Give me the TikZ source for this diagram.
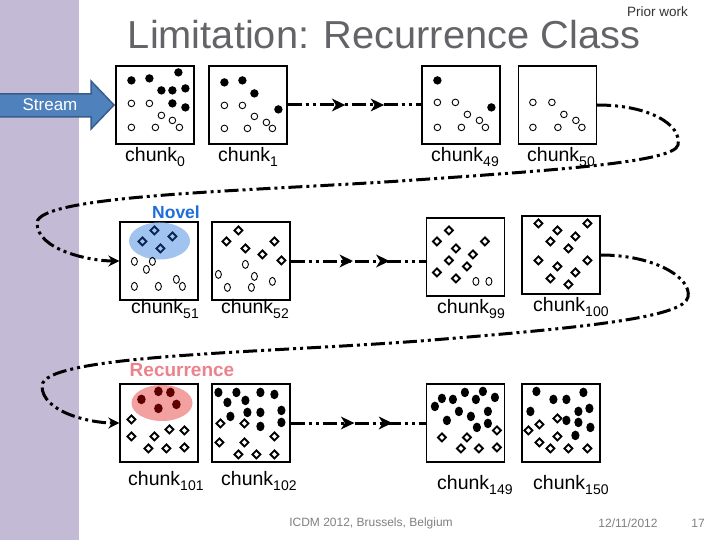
\documentclass[tikz,border=0pt]{standalone}
\usepackage{fontspec}
\setmainfont{Liberation Sans}
\usepackage{graphicx}
\usetikzlibrary{arrows.meta,decorations.markings,shapes.geometric}
\definecolor{barcol}{RGB}{195,186,214}
\definecolor{streamfill}{RGB}{79,129,189}
\definecolor{streamline}{RGB}{56,93,138}
\definecolor{titlecol}{RGB}{100,100,104}
\definecolor{novelcol}{RGB}{30,110,215}
\definecolor{novelfill}{RGB}{160,195,240}
\definecolor{reccol}{RGB}{236,130,140}
\definecolor{recfill}{RGB}{242,160,160}
\definecolor{navy}{RGB}{12,36,80}
\definecolor{darkred}{RGB}{95,0,0}
\definecolor{footcol}{RGB}{128,128,128}

\newcommand\ptF[2]{\foreach \p/\q in {#2}{\fill ([shift={(\p,\q)}]#1.north west) circle[radius=4.2pt];}}
\newcommand\ptE[2]{\foreach \p/\q in {#2}{\fill ([shift={(\p,\q)}]#1.north west) ellipse[x radius=4.1pt,y radius=4.8pt];}}
\newcommand\ptR[2]{\foreach \p/\q in {#2}{\fill[darkred] ([shift={(\p,\q)}]#1.north west) ellipse[x radius=4.3pt,y radius=4.8pt];}}
\newcommand\ptO[2]{\foreach \p/\q in {#2}{\draw[line width=0.9pt] ([shift={(\p,\q)}]#1.north west) circle[radius=3.3pt];}}
\newcommand\ptV[2]{\foreach \p/\q in {#2}{\draw[line width=0.9pt] ([shift={(\p,\q)}]#1.north west) ellipse[x radius=3pt,y radius=4pt];}}
\newcommand\ptD[3]{\foreach \p/\q in {#2}{\draw[line width=1.8pt,#3] ([shift={(\p,\q)}]#1.north west) ++(0,-4pt) -- ++(4pt,4pt) -- ++(-4pt,4pt) -- ++(-4pt,-4pt) -- cycle;}}
\newcommand\chk[1]{chunk\raisebox{-5pt}{\fontsize{14pt}{14pt}\selectfont #1}}
\newcommand\midtip{\fill[solid] (-12pt,-6.5pt) -- (1.5pt,0pt) -- (-12pt,6.5pt) -- (-8pt,0pt) -- cycle;}

\begin{document}
\begin{tikzpicture}[x=1pt,y=-1pt,
  box/.style={draw, line width=1.2pt, minimum size=78pt, inner sep=0pt, fill=white},
  lab/.style={anchor=base west, inner sep=0pt, font=\fontsize{19.5pt}{22pt}\selectfont},
  conn/.style={line width=3pt, dash pattern=on 14pt off 4pt on 3pt off 4pt on 3pt off 4pt},
  tipstyle/.style={-{Stealth[length=11pt,width=11pt]}},
  midarrows/.style 2 args={postaction={decorate}, decoration={markings,
     mark=at position #1 with {\midtip},
     mark=at position #2 with {\midtip}}},
  foot/.style={text=footcol, font=\fontsize{12pt}{14pt}\selectfont, inner sep=0pt}]
\useasboundingbox (0,0) rectangle (720,540);
\fill[white] (0,0) rectangle (720,540);
\fill[barcol] (0,0) rectangle (79,540);

% title
\node[anchor=base, inner sep=0pt, text=titlecol, font=\fontsize{39pt}{44pt}\selectfont] (title) at (384,49) {\scalebox{1.02}[1]{Limitation: Recurrence Class}};
\node[anchor=base west, inner sep=0pt, text=black!80, font=\fontsize{13.5pt}{16pt}\selectfont] (prior) at (627,17) {Prior work};

% stream arrow
\draw[fill=streamfill, draw=streamline, line width=1.5pt] (-3,94) -- (91,94) -- (91,81) -- (114,105) -- (91,129) -- (91,117) -- (-3,117) -- cycle;
\node[text=white, font=\fontsize{17pt}{20pt}\selectfont] (stream) at (50,105) {Stream};

% boxes
\node[box] (c0) at (155,105) {};
\node[box] (c1) at (248,105) {};
\node[box] (c49) at (461,105) {};
\node[box] (c50) at (557.5,105) {};
\node[box] (c51) at (159,261) {};
\node[box] (c52) at (251,261) {};
\node[box] (c99) at (465.5,257) {};
\node[box] (c100) at (561,255) {};
\node[box] (c101) at (159,423) {};
\node[box] (c102) at (251,423) {};
\node[box] (c149) at (465.5,423) {};
\node[box] (c150) at (561,423) {};

% highlight ellipses
\node[ellipse, fill=novelfill, minimum width=61pt, minimum height=37pt, inner sep=0pt] (novelE) at (159.5,241) {};
\node[ellipse, fill=recfill, minimum width=61pt, minimum height=36pt, inner sep=0pt] (recE) at (162,403) {};

% row 1 points
\ptF{c0}{16/15,34/13,63/7,46/25,57/25,70/23,57/38,70/42}
\ptO{c0}{16/38,34/38,46/50,16/62,40/62,57/55,64/62}
\ptF{c1}{16/17,34/15,46/28,70/44}
\ptO{c1}{16/40,34/40,46/51,16/63,39/63,58/57,64/63}
\ptF{c49}{16/15,70/42}
\ptO{c49}{16/37,34/37,46/49,16/62,40/62,58/55,64/62}
\ptO{c50}{15/37,34/37,46/49,15/62,40/62,58/55,64/62}

% row 2 points
\ptD{c51}{35/9,23/20,53/15,41/27}{draw=navy}
\ptV{c51}{15/40,33/40,27/48,15/65,39/65,57/58,63/65}
\ptD{c52}{27/9,15/20,34/27,63/20,51/33,70/39}{fill=white}
\ptV{c52}{34/43,7/53,43/55,16/66,40/66,61/60}
\ptD{c99}{23/13,11/24,30/31,59/24,47/37,23/43,41/49,11/55,30/61}{fill=white}
\ptV{c99}{50/64,63/64}
\ptD{c100}{17/8,36/15,66/8,54/21,29/26,47/33,17/45,66/45,36/51,54/57,29/63,47/69}{fill=white}

% row 3 points
\ptR{c101}{22/16,39/8,51/9,39/25,57/21}
\ptD{c101}{12/36,12/53,35/53,50/46,65/47,29/65,47/65,65/64}{fill=white}
\ptE{c102}{7/9,25/9,16/19,34/17,49/9,63/11,19/33,36/29,49/29,70/27,70/39,49/43}
\ptD{c102}{9/40,33/40,63/53,8/59,33/59,27/71,45/71,63/71}{fill=white}
\ptE{c149}{9/23,16/15,27/16,39/9,50/16,57/8,69/14,33/28,45/33,62/28,21/37,51/44,62/40}
\ptD{c149}{71/47,16/54,41/54,35/65,53/65,71/64}{fill=white}
\ptE{c150}{15/8,32/16,45/16,62/9,9/28,57/28,68/25,45/37,57/39,69/44,54/52}
\ptD{c150}{36/35,18/41,7/47,36/53,18/59,29/65,47/65,66/65}{fill=white}

% highlight labels
\node[text=novelcol, font=\bfseries\fontsize{17.5pt}{20pt}\selectfont, inner sep=0pt] (novel) at (176,212.5) {Novel};
\node[text=reccol, font=\bfseries\fontsize{19pt}{22pt}\selectfont, inner sep=0pt] (rec) at (182,370) {Recurrence};

% connectors
\draw[conn, midarrows={0.42}{0.71}] (c1.east) -- (c49.west);
\draw[conn, midarrows={0.45}{0.72}] (c52.east) -- (c52.east -| c99.west);
\draw[conn, midarrows={0.46}{0.74}] (c102.east) -- (c102.east -| c149.west);
\draw[conn, tipstyle] (c50.east) .. controls (650,105) and (682,125) .. (678,145)
   .. controls (674,162) and (560,170) .. (400,181)
   .. controls (250,191) and (37,195) .. (37,223)
   .. controls (37,250) and (90,261) .. (c51.west);
\draw[conn, tipstyle] (c100.east) .. controls (655,255) and (692,278) .. (688,297)
   .. controls (684,318) and (580,328) .. (420,341)
   .. controls (260,353) and (42,355) .. (42,386)
   .. controls (42,412) and (90,423) .. (c101.west);

% chunk labels
\node[lab] (l0) at (125,162) {\chk{0}};
\node[lab] (l1) at (218,162) {\chk{1}};
\node[lab] (l49) at (431,162) {\chk{49}};
\node[lab] (l50) at (527,162) {\chk{50}};
\node[lab] (l51) at (131,313) {\chk{51}};
\node[lab] (l52) at (221,313) {\chk{52}};
\node[lab] (l99) at (437,313) {\chk{99}};
\node[lab] (l100) at (533,311) {\chk{100}};
\node[lab] (l101) at (128,485) {\chk{101}};
\node[lab] (l102) at (221,485) {\chk{102}};
\node[lab] (l149) at (437,489) {\chk{149}};
\node[lab] (l150) at (533,489) {\chk{150}};

% footer
\node[foot] (conf) at (371,523) {ICDM 2012, Brussels, Belgium};
\node[foot] (date) at (628,523) {12/11/2012};
\node[foot] (page) at (698,523) {17};
\end{tikzpicture}
\end{document}
